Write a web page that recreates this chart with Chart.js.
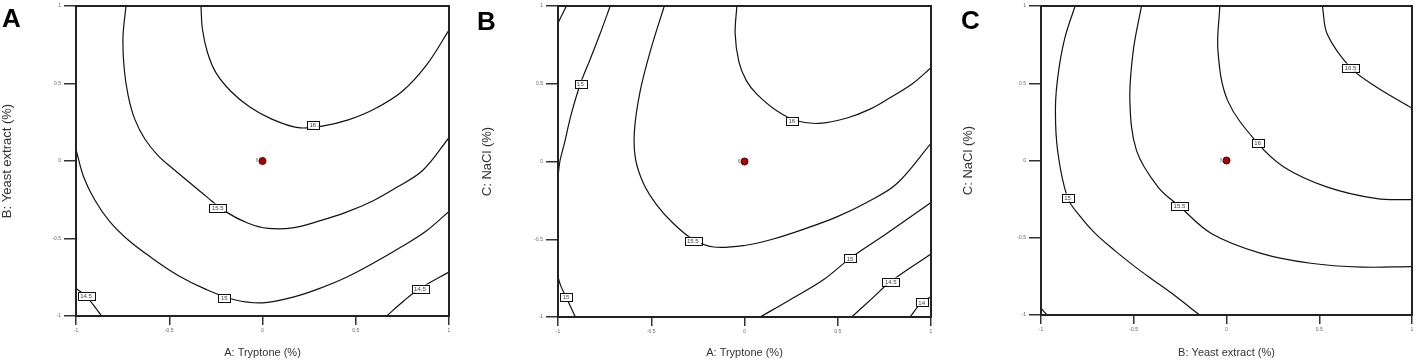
<!DOCTYPE html>
<html>
<head>
<meta charset="utf-8">
<script src="https://cdn.jsdelivr.net/npm/chart.js@4"></script>
<style>
  body { margin: 0; background: #fff; width: 1417px; height: 360px; position: relative; overflow: hidden; }
  canvas { position: absolute; top: 0; }
  .tag { position: absolute; font: bold 26px "Liberation Sans", Arial, sans-serif; color: #000; line-height: 1; }
</style>
</head>
<body>
<canvas id="chartA" width="470" height="360" style="left:0"></canvas>
<canvas id="chartB" width="470" height="360" style="left:470px"></canvas>
<canvas id="chartC" width="472" height="360" style="left:945px"></canvas>
<div class="tag" style="left:2px;top:5px">A</div>
<div class="tag" style="left:477px;top:8px">B</div>
<div class="tag" style="left:961px;top:7px">C</div>
<script>
const tickValues = [-1, -0.5, 0, 0.5, 1];
const centerPoint = [0, 0];
const centerCount = '6';

// panel A: Tryptone (x) vs Yeast extract (y)
const aLevels = ['16', '15.5', '15', '14.5', '14.5'];
const aLabelAt = [[0.27, 0.235], [-0.24, -0.3], [-0.205, -0.882], [-0.946, -0.872], [0.844, -0.823]];
const aLines = [
  [[-0.33, 1], [-0.322, 0.85], [-0.295, 0.7], [-0.25, 0.57], [-0.17, 0.45], [-0.07, 0.35], [0.05, 0.27], [0.19, 0.215], [0.32, 0.225], [0.46, 0.265], [0.6, 0.335], [0.75, 0.45], [0.88, 0.62], [1, 0.844]],
  [[-0.732, 1], [-0.748, 0.8], [-0.742, 0.6], [-0.72, 0.42], [-0.685, 0.27], [-0.63, 0.14], [-0.56, 0.035], [-0.48, -0.05], [-0.39, -0.14], [-0.3, -0.23], [-0.2, -0.325], [-0.08, -0.4], [0.03, -0.435], [0.17, -0.43], [0.31, -0.385], [0.45, -0.33], [0.594, -0.256], [0.72, -0.17], [0.86, -0.06], [1, 0.15]],
  [[-1, 0.075], [-0.96, -0.1], [-0.9, -0.25], [-0.82, -0.39], [-0.72, -0.51], [-0.6, -0.62], [-0.45, -0.74], [-0.3, -0.83], [-0.15, -0.895], [0, -0.915], [0.165, -0.878], [0.3, -0.825], [0.45, -0.75], [0.6, -0.655], [0.75, -0.55], [0.88, -0.45], [1, -0.325]],
  [[-1, -0.823], [-0.946, -0.872], [-0.862, -1]],
  [[0.666, -1], [0.76, -0.9], [0.844, -0.823], [1, -0.716]]
];

// panel B: Tryptone (x) vs NaCl (y)
const bLevels = ['16', '15.5', '15', '', '15', '15', '14.5', '14'];
const bLabelAt = [[0.254, 0.262], [-0.277, -0.51], [-0.88, 0.5], null, [-0.957, -0.872], [0.566, -0.623], [0.784, -0.772], [0.95, -0.906]];
const bLines = [
  [[-0.041, 1], [-0.05, 0.82], [-0.03, 0.64], [0.01, 0.52], [0.066, 0.433], [0.173, 0.326], [0.28, 0.262], [0.4, 0.245], [0.55, 0.28], [0.67, 0.335], [0.78, 0.41], [0.9, 0.5], [1, 0.603]],
  [[-0.43, 1], [-0.505, 0.71], [-0.56, 0.45], [-0.59, 0.2], [-0.585, 0.02], [-0.541, -0.143], [-0.47, -0.28], [-0.38, -0.4], [-0.277, -0.5], [-0.166, -0.55], [0, -0.54], [0.15, -0.5], [0.33, -0.43], [0.495, -0.356], [0.66, -0.26], [0.816, -0.143], [1, 0.117]],
  [[-0.72, 1], [-0.775, 0.82], [-0.83, 0.65], [-0.88, 0.5], [-0.93, 0.3], [-0.965, 0.12], [-0.99, 0], [-1, -0.1]],
  [[-0.955, 1], [-1, 0.89]],
  [[-1, -0.74], [-0.985, -0.8], [-0.957, -0.872], [-0.907, -1]],
  [[0.084, -1], [0.245, -0.889], [0.423, -0.761], [0.566, -0.623], [0.7625, -0.463], [1, -0.264]],
  [[0.575, -1], [0.68, -0.885], [0.784, -0.772], [1, -0.595]],
  [[0.8875, -1], [0.95, -0.906], [1, -0.87]]
];

// panel C: Yeast extract (x) vs NaCl (y)
const cLevels = ['15', '15.5', '16', '16.5', ''];
const cLabelAt = [[-0.857, -0.24], [-0.254, -0.296], [0.168, 0.112], [0.669, 0.601], null];
const cLines = [
  [[-0.816, 1], [-0.87, 0.8], [-0.905, 0.58], [-0.922, 0.35], [-0.91, 0.06], [-0.857, -0.24], [-0.79, -0.36], [-0.708, -0.472], [-0.6, -0.585], [-0.494, -0.687], [-0.4, -0.77], [-0.297, -0.858], [-0.145, -1]],
  [[-0.458, 1], [-0.503, 0.708], [-0.521, 0.386], [-0.485, 0.064], [-0.369, -0.172], [-0.254, -0.296], [-0.082, -0.472], [0.186, -0.601], [0.454, -0.665], [0.73, -0.69], [1, -0.687]],
  [[-0.036, 1], [-0.046, 0.708], [0.007, 0.386], [0.168, 0.112], [0.311, -0.043], [0.544, -0.172], [0.812, -0.247], [1, -0.253]],
  [[0.517, 1], [0.544, 0.815], [0.669, 0.601], [0.812, 0.472], [1, 0.339]],
  [[-1, -0.955], [-0.968, -1]]
];

const FONT = '"Liberation Sans", Arial, sans-serif';

// draws the box around the plot, the contour value boxes and the run count by the centre point
const contourLabels = {
  id: 'contourLabels',
  afterDatasetsDraw(chart) {
    const { ctx, chartArea: a, scales: { x, y } } = chart;
    ctx.save();
    ctx.lineWidth = 2;
    ctx.strokeStyle = '#222';
    ctx.strokeRect(a.left, a.top, a.width, a.height);

    ctx.font = '6px ' + FONT;
    ctx.textAlign = 'center';
    ctx.textBaseline = 'middle';
    chart.data.datasets.forEach(ds => {
      if (!ds.levelText || !ds.labelAt) return;
      const px = x.getPixelForValue(ds.labelAt[0]);
      const py = y.getPixelForValue(ds.labelAt[1]);
      const w = ctx.measureText(ds.levelText).width + 5;
      const h = 8;
      ctx.fillStyle = '#fff';
      ctx.fillRect(px - w / 2, py - h / 2, w, h);
      ctx.lineWidth = 1;
      ctx.strokeStyle = '#111';
      ctx.strokeRect(Math.round(px - w / 2) + 0.5, Math.round(py - h / 2) + 0.5, Math.round(w), h);
      ctx.fillStyle = '#444';
      ctx.fillText(ds.levelText, px, py + 0.5);
    });

    ctx.font = '5px ' + FONT;
    ctx.fillStyle = '#777';
    ctx.textAlign = 'right';
    ctx.fillText(centerCount, x.getPixelForValue(centerPoint[0]) - 4, y.getPixelForValue(centerPoint[1]));
    ctx.restore();
  }
};

function makePanel(id, lines, levels, labelAt, xTitle, yTitle, geo) {
  const datasets = lines.map((pts, i) => ({
    data: pts.map(p => ({ x: p[0], y: p[1] })),
    showLine: true,
    borderColor: '#111',
    borderWidth: 1.2,
    pointRadius: 0,
    tension: 0.35,
    fill: false,
    levelText: levels[i],
    labelAt: labelAt[i]
  }));
  datasets.push({
    data: [{ x: centerPoint[0], y: centerPoint[1] }],
    pointRadius: 3.5,
    pointBackgroundColor: '#b00000',
    pointBorderColor: '#400',
    pointBorderWidth: 1
  });

  new Chart(document.getElementById(id), {
    type: 'scatter',
    data: { datasets },
    plugins: [contourLabels],
    options: {
      responsive: false,
      animation: false,
      devicePixelRatio: 1,
      layout: { padding: { left: 0, top: geo.top, right: geo.right, bottom: 0 } },
      plugins: { legend: { display: false }, tooltip: { enabled: false } },
      scales: {
        x: {
          type: 'linear', min: -1, max: 1,
          afterBuildTicks: s => { s.ticks = tickValues.map(v => ({ value: v })); },
          ticks: { font: { size: 5, family: FONT }, color: '#666', padding: 3, maxRotation: 0, callback: v => String(v) },
          grid: { drawOnChartArea: false, tickLength: 9, color: '#333', lineWidth: 1.5 },
          border: { color: '#222', width: 2 },
          title: { display: true, text: xTitle, font: { size: 11, family: FONT }, color: '#333', padding: { top: 0, bottom: 0 } },
          afterFit: s => { s.height = 360 - geo.bottom; }
        },
        y: {
          type: 'linear', min: -1, max: 1,
          afterBuildTicks: s => { s.ticks = tickValues.map(v => ({ value: v })); },
          ticks: { font: { size: 5, family: FONT }, color: '#666', padding: 3, callback: v => String(v) },
          grid: { drawOnChartArea: false, tickLength: 12, color: '#333', lineWidth: 1.5 },
          border: { color: '#222', width: 2 },
          title: { display: true, text: yTitle, font: { size: 13, family: FONT }, color: '#333', padding: { top: geo.titleX, bottom: 0 } },
          afterFit: s => { s.width = geo.left; }
        }
      }
    }
  });
}

makePanel('chartA', aLines, aLevels, aLabelAt, 'A: Tryptone (%)', 'B: Yeast extract (%)', { left: 76, right: 21, top: 4, bottom: 316, titleX: 0 });
makePanel('chartB', bLines, bLevels, bLabelAt, 'A: Tryptone (%)', 'C: NaCl (%)', { left: 88, right: 9, top: 5, bottom: 317, titleX: 10 });
makePanel('chartC', cLines, cLevels, cLabelAt, 'B: Yeast extract (%)', 'C: NaCl (%)', { left: 96, right: 4, top: 5, bottom: 315, titleX: 16 });
</script>
</body>
</html>
